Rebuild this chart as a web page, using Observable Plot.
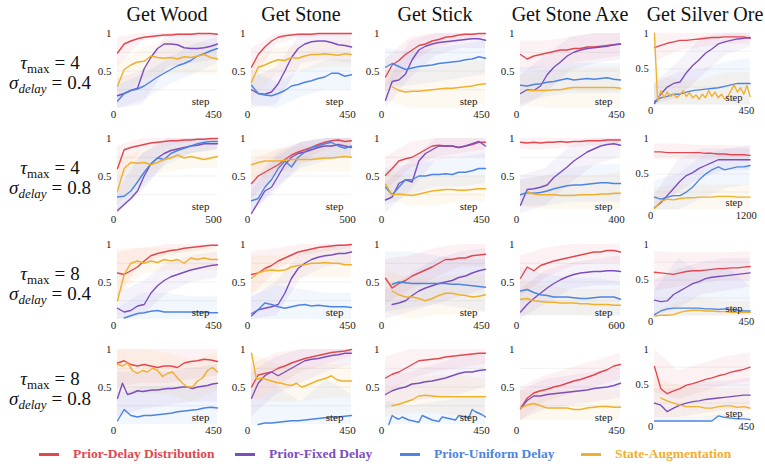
<!DOCTYPE html>
<html>
<head>
<meta charset="utf-8">
<script src="https://cdn.jsdelivr.net/npm/d3@7"></script>
<script src="https://cdn.jsdelivr.net/npm/@observablehq/plot@0.6"></script>
<style>
  body { margin: 0; background: #fff; }
  #fig { position: relative; width: 765px; height: 468px; overflow: hidden;
         font-family: "Liberation Serif", "Times New Roman", serif; color: #111; }
  .title { position: absolute; top: 2px; font-size: 20px; line-height: 24px;
           transform: translateX(-50%); white-space: nowrap; }
  .rowlab { position: absolute; left: 50px; transform: translate(-50%, -50%);
            font-size: 19px; line-height: 20px; text-align: center; white-space: nowrap; }
  .rowlab sub { font-size: 13px; vertical-align: -4px; line-height: 0; }
  .rowlab .eq { padding: 0 5px; }
  .panel { position: absolute; }
  .legend-item { position: absolute; top: 445px; height: 18px; white-space: nowrap; }
  .legend-item .swatch { position: absolute; left: 0; top: 8px; width: 20px; height: 3px; }
  .legend-item .label { position: absolute; left: 34px; top: 0; font-size: 13.5px;
                        line-height: 18px; font-weight: bold; }
</style>
</head>
<body>
<div id="fig"></div>
<script>
// Tasks (columns), delay settings (rows) and methods (series)
const tasks = ["Get Wood", "Get Stone", "Get Stick", "Get Stone Axe", "Get Silver Ore"];
const tauMax = ["4", "4", "8", "8"];
const sigmaDelay = ["0.4", "0.8", "0.4", "0.8"];
const methods = ["Prior-Delay Distribution", "Prior-Fixed Delay", "Prior-Uniform Delay", "State-Augmentation"];
const methodColors = ["#e2474f", "#7c4dbf", "#4d84e2", "#efb02c"];

// Last training step shown on each panel's x axis
const stepMax = [
  [450, 450, 450, 450, 450],
  [500, 500, 450, 400, 1200],
  [450, 450, 450, 600, 450],
  [450, 450, 450, 450, 450]
];

// Mean success rate per method, sampled evenly over the steps
// order: Prior-Delay Distribution, Prior-Fixed Delay, Prior-Uniform Delay, State-Augmentation
const wood_t4_s04 = [
  [0.74, 0.86, 0.9, 0.93, 0.95, 0.96, 0.97, 0.98, 0.98, 0.99, 0.99, 0.99, 1.0, 1.0, 1.0, 0.99],
  [0.17, 0.2, 0.24, 0.27, 0.53, 0.68, 0.8, 0.86, 0.86, 0.85, 0.81, 0.8, 0.8, 0.81, 0.83, 0.86],
  [0.1, 0.2, 0.24, 0.26, 0.3, 0.36, 0.42, 0.47, 0.52, 0.57, 0.6, 0.64, 0.7, 0.73, 0.77, 0.8],
  [0.3, 0.52, 0.58, 0.62, 0.63, 0.7, 0.68, 0.67, 0.68, 0.66, 0.69, 0.68, 0.7, 0.72, 0.68, 0.66]
];
const stone_t4_s04 = [
  [0.55, 0.72, 0.82, 0.9, 0.95, 0.97, 0.98, 0.99, 0.99, 0.99, 1.0, 1.0, 1.0, 1.0, 1.0, 1.0],
  [0.25, 0.2, 0.19, 0.22, 0.33, 0.5, 0.68, 0.8, 0.86, 0.89, 0.9, 0.9, 0.88, 0.85, 0.84, 0.82],
  [0.31, 0.2, 0.18, 0.17, 0.2, 0.24, 0.3, 0.32, 0.35, 0.37, 0.4, 0.42, 0.47, 0.47, 0.43, 0.45],
  [0.35, 0.55, 0.58, 0.62, 0.65, 0.64, 0.68, 0.67, 0.7, 0.72, 0.72, 0.73, 0.72, 0.71, 0.73, 0.72]
];
const stick_t4_s04 = [
  [0.42, 0.58, 0.64, 0.72, 0.78, 0.84, 0.86, 0.9, 0.92, 0.95, 0.96, 0.98, 0.99, 0.99, 1.0, 1.0],
  [0.11, 0.36, 0.38, 0.46, 0.65, 0.78, 0.83, 0.86, 0.88, 0.89, 0.9, 0.91, 0.92, 0.93, 0.93, 0.91],
  [0.55, 0.6, 0.56, 0.52, 0.54, 0.56, 0.57, 0.58, 0.6, 0.61, 0.62, 0.63, 0.65, 0.66, 0.69, 0.67],
  [null, 0.29, 0.24, 0.22, 0.23, 0.23, 0.24, 0.25, 0.26, 0.27, 0.27, 0.28, 0.29, 0.3, 0.32, 0.33]
];
const axe_t4_s04 = [
  [0.72, 0.66, 0.7, 0.72, 0.74, 0.76, 0.78, 0.78, 0.8, 0.8, 0.82, 0.82, 0.83, 0.84, 0.85, 0.86],
  [0.2, 0.25, 0.24, 0.3, 0.45, 0.55, 0.62, 0.7, 0.75, 0.78, 0.8, 0.81, 0.82, 0.83, 0.85, 0.86],
  [0.31, 0.3, 0.32, 0.33, 0.35, 0.36, 0.38, 0.4, 0.38, 0.39, 0.4, 0.39, 0.4, 0.41, 0.39, 0.38],
  [null, 0.24, 0.24, 0.24, 0.24, 0.25, 0.25, 0.27, 0.28, 0.28, 0.28, 0.28, 0.28, 0.28, 0.28, 0.27]
];
const silver_t4_s04 = [
  [0.8, 0.83, 0.86, 0.88, 0.9, 0.9, 0.91, 0.92, 0.93, 0.94, 0.94, 0.95, 0.95, 0.95, 0.95, 0.93],
  [0.02, 0.15, 0.25, 0.3, 0.32, 0.45, 0.55, 0.63, 0.72, 0.78, 0.85, 0.88, 0.9, 0.92, 0.93, 0.94],
  [0.05, 0.1, 0.12, 0.15, 0.15, 0.18, 0.2, 0.21, 0.22, 0.23, 0.24, 0.26, 0.28, 0.3, 0.3, 0.3],
  [1.0, 0.05, 0.2, 0.1, 0.18, 0.12, 0.15, 0.1, 0.14, 0.2, 0.12, 0.17, 0.1, 0.14, 0.08, 0.15,
   0.1, 0.2, 0.12, 0.18, 0.1, 0.15, 0.08, 0.12, 0.2, 0.28, 0.18, 0.24, 0.15, 0.27, 0.12]
];

const wood_t4_s08 = [
  [0.6, 0.85, 0.88, 0.9, 0.92, 0.94, 0.95, 0.96, 0.97, 0.97, 0.98, 0.98, 0.99, 0.99, 1.0, 1.0],
  [0.04, 0.12, 0.2, 0.3, 0.5, 0.66, 0.74, 0.8, 0.84, 0.86, 0.88, 0.9, 0.91, 0.93, 0.93, 0.93],
  [0.22, 0.23, 0.3, 0.42, 0.55, 0.66, 0.74, 0.72, 0.8, 0.84, 0.87, 0.9, 0.93, 0.95, 0.96, 0.96],
  [0.3, 0.6, 0.68, 0.67, 0.68, 0.65, 0.68, 0.72, 0.74, 0.78, 0.74, 0.76, 0.74, 0.72, 0.74, 0.76]
];
const stone_t4_s08 = [
  [0.4, 0.5, 0.55, 0.6, 0.65, 0.72, 0.78, 0.82, 0.85, 0.88, 0.92, 0.95, 0.97, 0.98, 0.96, 0.97],
  [0.0, 0.15, 0.3, 0.35, 0.5, 0.65, 0.75, 0.8, 0.82, 0.85, 0.88, 0.9, 0.9, 0.92, 0.9, 0.88],
  [0.17, 0.2, 0.35, 0.45, 0.6, 0.7, 0.62, 0.75, 0.82, 0.88, 0.9, 0.93, 0.95, 0.9, 0.87, 0.9],
  [0.65, 0.68, 0.7, 0.7, 0.7, 0.71, 0.72, 0.72, 0.72, 0.72, 0.73, 0.74, 0.74, 0.75, 0.76, 0.75]
];
const stick_t4_s08 = [
  [0.51, 0.6, 0.7, 0.73, 0.75, 0.8, 0.85, 0.9, 0.91, 0.9, 0.9, 0.88, 0.9, 0.92, 0.95, 0.95],
  [0.18, 0.22, 0.4, 0.45, 0.42, 0.7, 0.8, 0.85, 0.9, 0.9, 0.9, 0.88, 0.9, 0.93, 0.96, 0.9],
  [0.35, 0.25, 0.35, 0.45, 0.45, 0.5, 0.5, 0.52, 0.52, 0.53, 0.52, 0.55, 0.55, 0.57, 0.6, 0.6],
  [0.39, 0.25, 0.26, 0.25, 0.24, 0.26, 0.28, 0.3, 0.31, 0.32, 0.32, 0.31, 0.31, 0.32, 0.33, 0.33]
];
const axe_t4_s08 = [
  [0.95, 0.94, 0.95, 0.94, 0.95, 0.95, 0.96, 0.95, 0.96, 0.96, 0.97, 0.97, 0.97, 0.98, 0.98, 0.98],
  [0.11, 0.32, 0.33, 0.35, 0.38, 0.48, 0.55, 0.62, 0.7, 0.76, 0.82, 0.86, 0.9, 0.92, 0.93, 0.91],
  [0.25, 0.28, 0.27, 0.28, 0.3, 0.33, 0.35, 0.37, 0.38, 0.38, 0.39, 0.4, 0.41, 0.41, 0.4, 0.4],
  [null, 0.29, 0.26, 0.25, 0.25, 0.25, 0.24, 0.24, 0.24, 0.25, 0.25, 0.25, 0.26, 0.26, 0.27, 0.27]
];
const silver_t4_s08 = [
  [0.81, 0.81, 0.8, 0.8, 0.8, 0.8, 0.8, 0.8, 0.79, 0.79, 0.78, 0.78, 0.77, 0.77, 0.77, 0.76],
  [0.03, 0.1, 0.2, 0.3, 0.4, 0.48, 0.52, 0.58, 0.62, 0.66, 0.7, 0.7, 0.7, 0.7, 0.7, 0.7],
  [0.18, 0.15, 0.18, 0.2, 0.2, 0.25, 0.32, 0.42, 0.5, 0.56, 0.6, 0.56, 0.58, 0.6, 0.6, 0.62],
  [0.02, 0.12, 0.15, 0.14, 0.16, 0.17, 0.17, 0.18, 0.18, 0.18, 0.19, 0.19, 0.19, 0.18, 0.18, 0.18]
];

const wood_t8_s04 = [
  [0.62, 0.6, 0.65, 0.7, 0.78, 0.85, 0.88, 0.9, 0.92, 0.93, 0.95, 0.96, 0.97, 0.98, 0.99, 0.99],
  [0.15, 0.1, 0.12, 0.18, 0.2, 0.35, 0.45, 0.52, 0.57, 0.6, 0.63, 0.66, 0.68, 0.7, 0.72, 0.73],
  [null, 0.02, 0.05, 0.08, 0.09, 0.11, 0.12, 0.1, 0.1, 0.1, 0.1, 0.1, 0.1, 0.1, 0.09, 0.09],
  [0.25, 0.6, 0.75, 0.78, 0.75, 0.78, 0.76, 0.8, 0.78, 0.8, 0.75, 0.82, 0.8, 0.82, 0.8, 0.8]
];
const stone_t8_s04 = [
  [0.6, 0.62, 0.68, 0.72, 0.78, 0.82, 0.86, 0.9, 0.92, 0.94, 0.96, 0.97, 0.98, 0.99, 0.99, 1.0],
  [0.05, 0.13, 0.15, 0.17, 0.2, 0.35, 0.55, 0.68, 0.75, 0.8, 0.83, 0.85, 0.86, 0.88, 0.88, 0.9],
  [0.08, 0.13, 0.22, 0.2, 0.17, 0.15, 0.17, 0.19, 0.2, 0.18, 0.19, 0.18, 0.17, 0.17, 0.17, 0.16],
  [0.55, 0.62, 0.65, 0.66, 0.65, 0.66, 0.7, 0.72, 0.73, 0.75, 0.75, 0.76, 0.75, 0.75, 0.73, 0.73]
];
const stick_t8_s04 = [
  [0.55, 0.42, 0.48, 0.52, 0.58, 0.62, 0.66, 0.7, 0.75, 0.8, 0.8, 0.82, 0.82, 0.85, 0.86, 0.87],
  [null, 0.2, 0.22, 0.25, 0.32, 0.38, 0.42, 0.45, 0.48, 0.5, 0.52, 0.56, 0.58, 0.62, 0.65, 0.67],
  [null, 0.47, 0.5, 0.49, 0.48, 0.48, 0.48, 0.48, 0.48, 0.48, 0.47, 0.47, 0.46, 0.45, 0.44, 0.43],
  [null, 0.38, 0.33, 0.3, 0.3, 0.28, 0.25, 0.28, 0.32, 0.35, 0.35, 0.33, 0.32, 0.3, 0.31, 0.33]
];
const axe_t8_s04 = [
  [0.55, 0.7, 0.65, 0.72, 0.75, 0.78, 0.8, 0.82, 0.84, 0.86, 0.88, 0.9, 0.9, 0.92, 0.92, 0.9],
  [0.1, 0.2, 0.28, 0.35, 0.42, 0.48, 0.53, 0.57, 0.6, 0.62, 0.63, 0.64, 0.64, 0.65, 0.65, 0.64],
  [0.38, 0.4, 0.36, 0.33, 0.32, 0.3, 0.3, 0.3, 0.29, 0.28, 0.28, 0.29, 0.3, 0.3, 0.3, 0.27],
  [0.27, 0.28, 0.25, 0.24, 0.23, 0.23, 0.22, 0.22, 0.22, 0.21, 0.21, 0.2, 0.2, 0.2, 0.19, 0.19]
];
const silver_t8_s04 = [
  [0.61, 0.6, 0.59, 0.58, 0.6, 0.62, 0.63, 0.63, 0.64, 0.65, 0.66, 0.66, 0.67, 0.67, 0.68, 0.69],
  [0.22, 0.2, 0.21, 0.3, 0.35, 0.4, 0.45, 0.48, 0.52, 0.54, 0.55, 0.56, 0.57, 0.58, 0.59, 0.6],
  [0.02, 0.07, 0.1, 0.11, 0.11, 0.11, 0.11, 0.11, 0.1, 0.1, 0.09, 0.1, 0.09, 0.08, 0.07, 0.07],
  [0.0, 0.01, 0.01, 0.02, 0.05, 0.07, 0.08, 0.08, 0.07, 0.07, 0.06, 0.06, 0.05, 0.05, 0.05, 0.05]
];

const wood_t8_s08 = [
  [0.82, 0.85, 0.8, 0.78, 0.8, 0.78, 0.76, 0.78, 0.78, 0.76, 0.82, 0.84, 0.85, 0.87, 0.86, 0.84],
  [0.35, 0.55, 0.4, 0.42, 0.45, 0.44, 0.45, 0.46, 0.46, 0.47, 0.48, 0.48, 0.49, 0.5, 0.5, 0.48,
   0.5, 0.51, 0.52, 0.54, 0.55],
  [0.05, 0.2, 0.12, 0.1, 0.12, 0.12, 0.13, 0.14, 0.15, 0.17, 0.18, 0.19, 0.2, 0.22, 0.23, 0.22],
  [0.8, 0.78, 0.82, 0.72, 0.68, 0.72, 0.7, 0.75, 0.72, 0.64, 0.68, 0.7, 0.62, 0.55, 0.5, 0.5,
   0.58, 0.62, 0.72, 0.76, 0.7]
];
const stone_t8_s08 = [
  [0.5, 0.66, 0.68, 0.7, 0.75, 0.78, 0.82, 0.85, 0.88, 0.9, 0.92, 0.94, 0.96, 0.97, 0.98, 1.0],
  [0.35, 0.55, 0.65, 0.7, 0.65, 0.7, 0.75, 0.8, 0.85, 0.87, 0.88, 0.9, 0.92, 0.93, 0.95, 0.95],
  [null, 0.0, 0.02, 0.02, 0.03, 0.04, 0.05, 0.05, 0.06, 0.07, 0.08, 0.09, 0.1, 0.1, 0.11, 0.12],
  [0.95, 0.6, 0.62, 0.6, 0.58, 0.56, 0.55, 0.53, 0.52, 0.55, 0.5, 0.52, 0.55, 0.58, 0.6, 0.62,
   0.65, 0.6, 0.58, 0.58, 0.58]
];
const stick_t8_s08 = [
  [0.62, 0.67, 0.7, 0.75, 0.8, 0.85, 0.86, 0.87, 0.88, 0.9, 0.91, 0.92, 0.93, 0.94, 0.95, 0.95],
  [0.4, 0.45, 0.48, 0.5, 0.54, 0.55, 0.57, 0.58, 0.6, 0.62, 0.65, 0.68, 0.7, 0.7, 0.72, 0.73],
  [null, 0.0, 0.12, 0.09, 0.07, 0.1, 0.08, 0.06, 0.05, 0.04, 0.03, 0.12, 0.1, 0.08, 0.06, 0.05,
   0.04, 0.1, 0.09, 0.08, 0.07, 0.06, 0.12, 0.11, 0.1, 0.09, 0.2, 0.17, 0.15, 0.13, 0.1],
  [null, 0.25, 0.27, 0.3, 0.33, 0.38, 0.39, 0.38, 0.37, 0.37, 0.37, 0.37, 0.37, 0.37, 0.37, 0.37]
];
const axe_t8_s08 = [
  [0.21, 0.35, 0.42, 0.45, 0.47, 0.5, 0.52, 0.55, 0.58, 0.6, 0.63, 0.66, 0.7, 0.73, 0.78, 0.8],
  [0.22, 0.32, 0.38, 0.38, 0.4, 0.41, 0.42, 0.43, 0.44, 0.45, 0.46, 0.48, 0.49, 0.5, 0.52, 0.55],
  [],
  [0.22, 0.26, 0.28, 0.25, 0.22, 0.22, 0.22, 0.22, 0.2, 0.2, 0.22, 0.23, 0.24, 0.24, 0.23, 0.23]
];
const silver_t8_s08 = [
  [0.76, 0.45, 0.38, 0.42, 0.45, 0.5, 0.52, 0.55, 0.58, 0.6, 0.63, 0.65, 0.68, 0.7, 0.72, 0.75],
  [0.25, 0.22, 0.13, 0.18, 0.22, 0.25, 0.27, 0.28, 0.3, 0.31, 0.32, 0.33, 0.34, 0.35, 0.36, 0.36],
  [0.0, 0.0, 0.0, 0.0, 0.0, 0.0, 0.0, 0.0, 0.0, 0.0, 0.07, 0.05, 0.04, 0.03, 0.03, 0.02],
  [null, 0.32, 0.28, 0.25, 0.22, 0.2, 0.2, 0.2, 0.18, 0.18, 0.2, 0.21, 0.21, 0.19, 0.2, 0.18]
];

// Spread across seeds: [lower, upper] per method, sampled at 5 evenly spaced steps
const wood_t4_s04_band = [
  [[0.55, 0.9, 0.95, 0.96, 0.97], [0.95, 1, 1, 1, 1]],
  [[0, 0.05, 0.55, 0.6, 0.65], [0.4, 0.5, 1, 1, 1]],
  [[0, 0.1, 0.3, 0.45, 0.6], [0.3, 0.45, 0.65, 0.85, 0.95]],
  [[0.05, 0.4, 0.45, 0.45, 0.45], [0.6, 0.8, 0.9, 0.9, 0.85]]
];
const stone_t4_s04_band = [
  [[0.35, 0.85, 0.95, 0.96, 0.97], [0.8, 1, 1, 1, 1]],
  [[0, 0.05, 0.6, 0.65, 0.6], [0.4, 0.55, 1, 1, 1]],
  [[0.05, 0, 0.15, 0.25, 0.25], [0.5, 0.35, 0.5, 0.65, 0.65]],
  [[0.1, 0.45, 0.5, 0.55, 0.55], [0.6, 0.8, 0.85, 0.9, 0.9]]
];
const stick_t4_s04_band = [
  [[0.2, 0.6, 0.8, 0.9, 0.95], [0.65, 0.95, 1, 1, 1]],
  [[0, 0.4, 0.7, 0.8, 0.8], [0.3, 0.9, 1, 1, 1]],
  [[0.3, 0.3, 0.35, 0.4, 0.45], [0.8, 0.75, 0.8, 0.85, 0.9]],
  [[0.1, 0, 0, 0, 0.05], [0.5, 0.5, 0.55, 0.6, 0.65]]
];
const axe_t4_s04_band = [
  [[0.5, 0.55, 0.6, 0.65, 0.7], [0.9, 0.9, 0.95, 1, 1]],
  [[0, 0.2, 0.5, 0.6, 0.65], [0.45, 0.7, 0.95, 1, 1]],
  [[0.05, 0.15, 0.2, 0.2, 0.2], [0.55, 0.55, 0.6, 0.6, 0.6]],
  [[0.05, 0, 0, 0, 0], [0.45, 0.5, 0.55, 0.55, 0.55]]
];
const silver_t4_s04_band = [
  [[0.6, 0.75, 0.8, 0.85, 0.85], [1, 1, 1, 1, 1]],
  [[0, 0.1, 0.4, 0.7, 0.8], [0.3, 0.6, 0.95, 1, 1]],
  [[0, 0, 0, 0, 0], [0.3, 0.45, 0.5, 0.6, 0.65]],
  [[0, 0, 0, 0, 0], [0.4, 0.35, 0.35, 0.45, 0.45]]
];
const wood_t4_s08_band = [
  [[0.4, 0.85, 0.9, 0.95, 0.97], [0.9, 1, 1, 1, 1]],
  [[0, 0.3, 0.7, 0.8, 0.85], [0.3, 0.8, 1, 1, 1]],
  [[0, 0.35, 0.65, 0.8, 0.85], [0.45, 0.8, 0.95, 1, 1]],
  [[0.1, 0.5, 0.55, 0.6, 0.6], [0.7, 0.85, 0.9, 0.95, 0.95]]
];
const stone_t4_s08_band = [
  [[0.2, 0.5, 0.7, 0.85, 0.9], [0.7, 0.85, 0.95, 1, 1]],
  [[0, 0.3, 0.65, 0.75, 0.75], [0.3, 0.75, 0.95, 1, 1]],
  [[0, 0.35, 0.6, 0.7, 0.75], [0.4, 0.8, 0.95, 1, 1]],
  [[0.45, 0.55, 0.55, 0.55, 0.55], [0.85, 0.85, 0.9, 0.92, 0.95]]
];
const stick_t4_s08_band = [
  [[0.3, 0.6, 0.75, 0.8, 0.85], [0.75, 0.95, 1, 1, 1]],
  [[0, 0.3, 0.7, 0.75, 0.75], [0.4, 0.7, 1, 1, 1]],
  [[0.1, 0.25, 0.35, 0.35, 0.4], [0.6, 0.65, 0.7, 0.75, 0.8]],
  [[0.2, 0.1, 0.1, 0.15, 0.15], [0.6, 0.45, 0.5, 0.5, 0.5]]
];
const axe_t4_s08_band = [
  [[0.85, 0.85, 0.88, 0.9, 0.92], [1, 1, 1, 1, 1]],
  [[0, 0.1, 0.4, 0.65, 0.75], [0.5, 0.6, 0.9, 1, 1]],
  [[0.1, 0.1, 0.15, 0.15, 0.15], [0.45, 0.5, 0.6, 0.65, 0.65]],
  [[0.1, 0.05, 0.05, 0.05, 0.05], [0.45, 0.5, 0.5, 0.5, 0.55]]
];
const silver_t4_s08_band = [
  [[0.7, 0.7, 0.7, 0.7, 0.68], [0.92, 0.92, 0.9, 0.9, 0.88]],
  [[0, 0.25, 0.45, 0.55, 0.55], [0.2, 0.7, 0.85, 0.85, 0.85]],
  [[0, 0, 0.15, 0.3, 0.35], [0.4, 0.5, 0.75, 0.85, 0.9]],
  [[0, 0, 0, 0, 0], [0.3, 0.35, 0.35, 0.35, 0.35]]
];
const wood_t8_s04_band = [
  [[0.3, 0.75, 0.85, 0.9, 0.95], [0.9, 0.95, 1, 1, 1]],
  [[0, 0.05, 0.35, 0.5, 0.55], [0.35, 0.5, 0.75, 0.85, 0.9]],
  [[0, 0, 0, 0, 0], [0.15, 0.35, 0.35, 0.3, 0.3]],
  [[0.3, 0.6, 0.65, 0.65, 0.65], [0.95, 0.95, 0.95, 0.95, 0.95]]
];
const stone_t8_s04_band = [
  [[0.3, 0.65, 0.85, 0.9, 0.95], [0.9, 0.95, 1, 1, 1]],
  [[0, 0.05, 0.55, 0.7, 0.75], [0.3, 0.5, 0.9, 1, 1]],
  [[0, 0, 0, 0, 0], [0.3, 0.45, 0.4, 0.35, 0.35]],
  [[0.35, 0.45, 0.55, 0.55, 0.55], [0.85, 0.85, 0.9, 0.95, 0.95]]
];
const stick_t8_s04_band = [
  [[0.2, 0.4, 0.55, 0.7, 0.7], [0.8, 0.85, 0.95, 1, 1]],
  [[0, 0.1, 0.2, 0.3, 0.4], [0.4, 0.6, 0.8, 0.9, 0.95]],
  [[0.1, 0.15, 0.2, 0.15, 0.1], [0.9, 0.9, 0.85, 0.8, 0.8]],
  [[0.1, 0, 0.05, 0.05, 0.1], [0.65, 0.55, 0.55, 0.6, 0.6]]
];
const axe_t8_s04_band = [
  [[0.3, 0.55, 0.7, 0.75, 0.75], [0.85, 0.95, 1, 1, 1]],
  [[0, 0.2, 0.4, 0.45, 0.45], [0.4, 0.65, 0.75, 0.8, 0.85]],
  [[0.05, 0.05, 0.05, 0.05, 0.05], [0.7, 0.6, 0.55, 0.55, 0.5]],
  [[0.05, 0.05, 0.05, 0.05, 0.05], [0.5, 0.45, 0.4, 0.4, 0.4]]
];
const silver_t8_s04_band = [
  [[0.35, 0.4, 0.45, 0.5, 0.5], [0.9, 0.88, 0.88, 0.88, 0.9]],
  [[0, 0.1, 0.3, 0.35, 0.4], [0.5, 0.65, 0.75, 0.8, 0.8]],
  [[0, 0, 0, 0, 0], [0.35, 0.8, 0.6, 0.7, 0.4]],
  [[0, 0, 0, 0, 0], [0.05, 0.2, 0.25, 0.2, 0.2]]
];
const wood_t8_s08_band = [
  [[0.5, 0.55, 0.55, 0.6, 0.65], [1, 1, 1, 1, 1]],
  [[0.1, 0.2, 0.25, 0.3, 0.3], [0.7, 0.7, 0.7, 0.75, 0.8]],
  [[0, 0, 0, 0, 0], [0.4, 0.5, 0.5, 0.5, 0.55]],
  [[0.4, 0.4, 0.4, 0.3, 0.45], [1, 1, 0.95, 0.85, 0.95]]
];
const stone_t8_s08_band = [
  [[0.3, 0.5, 0.7, 0.8, 0.9], [0.8, 0.95, 1, 1, 1]],
  [[0.1, 0.4, 0.55, 0.7, 0.8], [0.7, 0.9, 1, 1, 1]],
  [[0, 0, 0, 0, 0], [0.3, 0.5, 0.3, 0.6, 0.4]],
  [[0.35, 0.3, 0.3, 0.35, 0.35], [0.95, 0.8, 0.75, 0.8, 0.8]]
];
const stick_t8_s08_band = [
  [[0.4, 0.6, 0.7, 0.75, 0.8], [0.9, 1, 1, 1, 1]],
  [[0.2, 0.3, 0.35, 0.4, 0.5], [0.65, 0.7, 0.8, 0.9, 0.95]],
  [[0, 0, 0, 0, 0], [0.3, 0.25, 0.3, 0.35, 0.35]],
  [[0.1, 0.15, 0.15, 0.1, 0.1], [0.45, 0.6, 0.65, 0.65, 0.6]]
];
const axe_t8_s08_band = [
  [[0.05, 0.3, 0.4, 0.5, 0.6], [0.5, 0.65, 0.75, 0.85, 0.95]],
  [[0.05, 0.2, 0.25, 0.3, 0.35], [0.45, 0.6, 0.65, 0.7, 0.75]],
  [[], []],
  [[0.05, 0.05, 0.05, 0.05, 0.05], [0.45, 0.45, 0.45, 0.45, 0.45]]
];
const silver_t8_s08_band = [
  [[0.4, 0.3, 0.4, 0.5, 0.55], [1, 0.7, 0.8, 0.9, 0.95]],
  [[0.05, 0.05, 0.1, 0.15, 0.15], [0.45, 0.45, 0.55, 0.55, 0.6]],
  [[0, 0, 0, 0, 0], [0.05, 0.05, 0.05, 0.1, 0.05]],
  [[0.05, 0.05, 0.05, 0.05, 0.05], [0.6, 0.5, 0.45, 0.45, 0.45]]
];

const means = [
  [wood_t4_s04, stone_t4_s04, stick_t4_s04, axe_t4_s04, silver_t4_s04],
  [wood_t4_s08, stone_t4_s08, stick_t4_s08, axe_t4_s08, silver_t4_s08],
  [wood_t8_s04, stone_t8_s04, stick_t8_s04, axe_t8_s04, silver_t8_s04],
  [wood_t8_s08, stone_t8_s08, stick_t8_s08, axe_t8_s08, silver_t8_s08]
];
const spreads = [
  [wood_t4_s04_band, stone_t4_s04_band, stick_t4_s04_band, axe_t4_s04_band, silver_t4_s04_band],
  [wood_t4_s08_band, stone_t4_s08_band, stick_t4_s08_band, axe_t4_s08_band, silver_t4_s08_band],
  [wood_t8_s04_band, stone_t8_s04_band, stick_t8_s04_band, axe_t8_s04_band, silver_t8_s04_band],
  [wood_t8_s08_band, stone_t8_s08_band, stick_t8_s08_band, axe_t8_s08_band, silver_t8_s08_band]
];

// Grid geometry
const colLeft = [117, 251, 385, 520, 655];
const rowTop = [33, 138, 244, 349];
const W = 100, H = 75;
const ML = 24, MR = 16, MT = 6, MB = 16;
const serif = "'Liberation Serif', 'Times New Roman', serif";
const axisMarks = typeof Plot.axisX === "function";

const fig = document.getElementById("fig");

function panel(r, c) {
  const xmax = stepMax[r][c];
  const lines = means[r][c].flatMap((ys, k) =>
    ys.map((y, i) => ({x: (i / (ys.length - 1)) * xmax, y, m: methods[k]})));
  const bands = spreads[r][c].flatMap(([lo, hi], k) =>
    lo.map((l, i) => ({x: (i / (lo.length - 1)) * xmax, lo: l, hi: hi[i], m: methods[k]})));
  const fmt = d => String(d);
  const axes = axisMarks ? [
    Plot.axisX([0, xmax], {tickSize: 0, tickPadding: 2, dx: -4, tickFormat: fmt, label: null}),
    Plot.axisY([0.5, 1], {tickSize: 0, tickPadding: 6, tickFormat: fmt, label: null})
  ] : [];
  return Plot.plot({
    width: W + ML + MR,
    height: H + MT + MB,
    marginLeft: ML, marginRight: MR, marginTop: MT, marginBottom: MB,
    style: {fontFamily: serif, fontSize: "11px",
            color: "#222", background: "transparent", overflow: "visible"},
    x: {domain: [0, xmax], ticks: [0, xmax], tickSize: 0, tickPadding: 2, tickFormat: fmt, label: null},
    y: {domain: [0, 1], ticks: [0.5, 1], tickSize: 0, tickPadding: 6, tickFormat: fmt, label: null},
    color: {domain: methods, range: methodColors},
    marks: [
      Plot.ruleY([0.25, 0.5, 0.75], {stroke: "#000", strokeOpacity: 0.06}),
      Plot.areaY(bands, {x: "x", y1: "lo", y2: "hi", z: "m", fill: "m", fillOpacity: 0.07}),
      Plot.line(lines, {x: "x", y: "y", z: "m", stroke: "m", strokeWidth: 1.4}),
      Plot.text(["step"], {text: d => d, frameAnchor: "bottom-right", textAnchor: "end",
                           dx: -8, dy: -4, fontSize: 11, fill: "#222"}),
      ...axes
    ]
  });
}

// Column titles
tasks.forEach((t, c) => {
  const d = document.createElement("div");
  d.className = "title";
  d.style.left = (colLeft[c] + W / 2) + "px";
  d.textContent = t;
  fig.appendChild(d);
});

// Row labels
tauMax.forEach((tau, r) => {
  const d = document.createElement("div");
  d.className = "rowlab";
  d.style.top = (rowTop[r] + H / 2 + 2) + "px";
  d.innerHTML = `<i>τ</i><sub>max</sub><span class="eq">=</span>${tau}<br>` +
                `<i>σ</i><sub><i>delay</i></sub><span class="eq">=</span>${sigmaDelay[r]}`;
  fig.appendChild(d);
});

// Panels
for (let r = 0; r < 4; r++) {
  for (let c = 0; c < 5; c++) {
    const d = document.createElement("div");
    d.className = "panel";
    d.style.left = (colLeft[c] - ML) + "px";
    d.style.top = (rowTop[r] - MT) + "px";
    d.appendChild(panel(r, c));
    fig.appendChild(d);
  }
}

// Legend
const legendLeft = [39, 235, 400, 581];
methods.forEach((m, k) => {
  const item = document.createElement("div");
  item.className = "legend-item";
  item.style.left = legendLeft[k] + "px";
  item.innerHTML = `<span class="swatch" style="background:${methodColors[k]}"></span>` +
                   `<span class="label" style="color:${methodColors[k]}">${m}</span>`;
  fig.appendChild(item);
});
</script>
</body>
</html>
